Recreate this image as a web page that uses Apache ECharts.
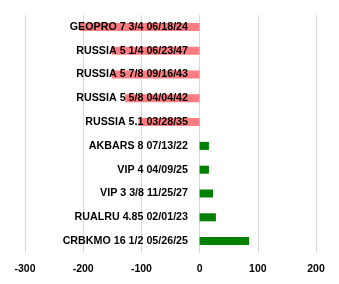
<!DOCTYPE html>
<html><head><meta charset="utf-8">
<script src="https://cdn.jsdelivr.net/npm/echarts@6/dist/echarts.min.js"></script>
<style>html,body{margin:0;padding:0;background:#fff}#c{width:339px;height:284px}</style>
</head><body><div id="c"></div>
<script>
var categories = ["GEOPRO 7 3/4 06/18/24","RUSSIA 5 1/4 06/23/47","RUSSIA 5 7/8 09/16/43","RUSSIA 5 5/8 04/04/42","RUSSIA 5.1 03/28/35","AKBARS 8 07/13/22","VIP 4 04/09/25","VIP 3 3/8 11/25/27","RUALRU 4.85 02/01/23","CRBKMO 16 1/2 05/26/25"];
var values = [-206,-151,-151,-128,-105,16,16,23,28,85];
var xTicks = [-300,-200,-100,0,100,200];
var pos = "#FF7C80", neg = "#008000";
var chart = echarts.init(document.getElementById('c'), null, {renderer:'canvas'});
chart.setOption({
  animation:false,
  grid:{left:25,right:23,top:15,bottom:31,containLabel:false,outerBoundsMode:'none',show:false},
  xAxis:{type:'value',min:xTicks[0],max:xTicks[xTicks.length-1],interval:100,
    axisLine:{show:false},axisTick:{show:false},
    splitLine:{show:true,lineStyle:{color:'#d9d9d9',width:1,type:'solid',opacity:1}},
    axisLabel:{margin:11,color:'#000',fontSize:10.5,fontWeight:'bold',fontFamily:'Liberation Sans'}},
  yAxis:{type:'category',data:categories,inverse:true,offset:-174,z:10,
    axisLine:{show:false,onZero:false},axisTick:{show:false},splitLine:{show:false},
    axisLabel:{margin:11,color:'#000',fontSize:10.7,fontWeight:'bold',fontFamily:'Liberation Sans'}},
  series:[{type:'bar',barWidth:8,z:2,
    data:values.map(function(v){return {value:v,itemStyle:{color:v<0?pos:neg}};})}]
});
</script></body></html>
